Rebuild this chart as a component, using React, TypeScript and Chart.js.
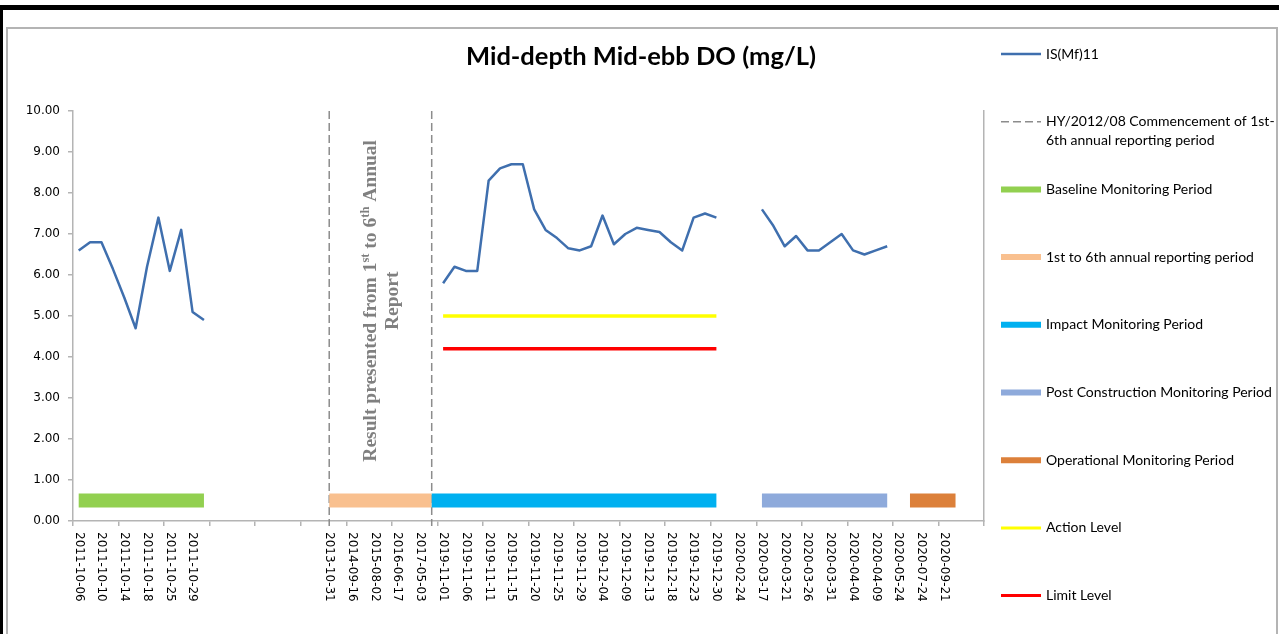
import React, { useEffect, useRef } from 'react';
import { Chart, registerables } from 'chart.js';

Chart.register(...registerables);

const W = 1279;
const H = 634;

// Category axis (Excel shows every 2nd label; unlabeled categories are '')
const categories: string[] = [
  '2011-10-06', '', '2011-10-10', '', '2011-10-14', '', '2011-10-18', '', '2011-10-25', '', '2011-10-29', '',
  '', '', '', '', '', '', '', '', '', '',
  '2013-10-31', '', '2014-09-16', '', '2015-08-02', '', '2016-06-17', '', '2017-05-03', '',
  '2019-11-01', '', '2019-11-06', '', '2019-11-11', '', '2019-11-15', '', '2019-11-20', '',
  '2019-11-25', '', '2019-11-29', '', '2019-12-04', '', '2019-12-09', '', '2019-12-13', '',
  '2019-12-18', '', '2019-12-23', '', '2019-12-30', '', '2020-02-24', '', '2020-03-17', '',
  '2020-03-21', '', '2020-03-26', '', '2020-03-31', '', '2020-04-04', '', '2020-04-09', '',
  '2020-05-24', '', '2020-07-24', '', '2020-09-21', '', '', '',
];

// IS(Mf)11 DO values (mg/L), null = no data
const isMf11: (number | null)[] = [
  6.6, 6.8, 6.8, 6.15, 5.45, 4.7, 6.2, 7.4, 6.1, 7.1, 5.1, 4.9,
  null, null, null, null, null, null, null, null, null, null,
  null, null, null, null, null, null, null, null, null, null,
  5.8, 6.2, 6.1, 6.1, 8.3, 8.6, 8.7, 8.7, 7.6, 7.1,
  6.9, 6.65, 6.6, 6.7, 7.45, 6.75, 7.0, 7.15, 7.1, 7.05,
  6.8, 6.6, 7.4, 7.5, 7.4, null, null, null, 7.6, 7.2,
  6.7, 6.95, 6.6, 6.6, 6.8, 7.0, 6.6, 6.5, 6.6, 6.7,
  null, null, null, null, null, null, null, null,
];

const actionLevel = 5.0;
const limitLevel = 4.2;
const levelRange = [32, 56];

const periodLevel = 0.5;
const baselineRange = [0, 11];
const reportingRange = [22, 31];
const impactRange = [31, 56];
const postConstructionRange = [60, 71];
const operationalRange = [73, 77];

const commencementIdx = [22, 31];

const yTicks = [0, 1, 2, 3, 4, 5, 6, 7, 8, 9, 10];

const title = 'Mid-depth Mid-ebb DO (mg/L)';

const C_IS = '#3f6fae';
const C_DASH = '#8c8c8c';
const C_BASE = '#92d050';
const C_REP = '#f9c08f';
const C_IMP = '#00b0f0';
const C_POST = '#8eaadb';
const C_OPER = '#dc803a';
const C_ACT = '#ffff00';
const C_LIM = '#ff0000';
const AXIS = '#b4b4b4';

const rangeSeries = (r: number[], v: number) =>
  categories.map((_, i) => (i >= r[0] && i <= r[1] ? v : null));

const legendItems = [
  { text: ['IS(Mf)11'], color: C_IS, width: 2.5, dash: [] as number[] },
  { text: ['HY/2012/08 Commencement of 1st-', '6th annual reporting period'], color: C_DASH, width: 1.5, dash: [8, 4] },
  { text: ['Baseline Monitoring Period'], color: C_BASE, width: 6, dash: [] },
  { text: ['1st to 6th annual reporting period'], color: C_REP, width: 6, dash: [] },
  { text: ['Impact Monitoring Period'], color: C_IMP, width: 6, dash: [] },
  { text: ['Post Construction Monitoring Period'], color: C_POST, width: 6, dash: [] },
  { text: ['Operational Monitoring Period'], color: C_OPER, width: 6, dash: [] },
  { text: ['Action Level'], color: C_ACT, width: 3, dash: [] },
  { text: ['Limit Level'], color: C_LIM, width: 3, dash: [] },
];

const customDraw = {
  id: 'customDraw',
  beforeDatasetsDraw(chart: any) {
    const { ctx, chartArea, scales } = chart;
    ctx.save();
    ctx.strokeStyle = C_DASH;
    ctx.lineWidth = 1.5;
    ctx.setLineDash([8, 4]);
    commencementIdx.forEach((i) => {
      const x = scales.x.getPixelForValue(i);
      ctx.beginPath();
      ctx.moveTo(x, scales.y.getPixelForValue(10));
      ctx.lineTo(x, chartArea.bottom + 5);
      ctx.stroke();
    });
    ctx.restore();

    // vertical annotation text
    const x1 = scales.x.getPixelForValue(commencementIdx[0]);
    const x2 = scales.x.getPixelForValue(commencementIdx[1]);
    const cx = (x1 + x2) / 2 + 1.5;
    const cy = scales.y.getPixelForValue(5.37);
    ctx.save();
    ctx.translate(cx, cy);
    ctx.rotate(-Math.PI / 2);
    ctx.fillStyle = '#808080';
    ctx.textBaseline = 'middle';
    ctx.textAlign = 'left';
    const big = 'bold 19.5px "Liberation Serif"';
    const sup = 'bold 12.5px "Liberation Serif"';
    const parts: [string, boolean][] = [
      ['Result presented from 1', false], ['st', true], [' to 6', false], ['th', true], [' Annual', false],
    ];
    let total = 0;
    parts.forEach(([t, s]) => { ctx.font = s ? sup : big; total += ctx.measureText(t).width; });
    let px = -total / 2;
    const ly1 = -11;
    parts.forEach(([t, s]) => {
      ctx.font = s ? sup : big;
      ctx.fillText(t, px, s ? ly1 - 5.5 : ly1);
      px += ctx.measureText(t).width;
    });
    ctx.font = big;
    ctx.textAlign = 'center';
    ctx.fillText('Report', 0, 11);
    ctx.restore();
  },
  afterDraw(chart: any) {
    const { ctx, scales, chartArea } = chart;
    // x labels rotated +90deg (reading downward)
    ctx.save();
    ctx.font = '12px "DejaVu Sans"';
    ctx.fillStyle = '#000';
    ctx.textAlign = 'left';
    ctx.textBaseline = 'middle';
    categories.forEach((lab, i) => {
      if (!lab) return;
      const x = scales.x.getPixelForValue(i);
      ctx.save();
      ctx.translate(x, chartArea.bottom + 11);
      ctx.rotate(Math.PI / 2);
      ctx.fillText(lab, 0, 0);
      ctx.restore();
    });
    ctx.restore();

    // title
    ctx.save();
    ctx.font = 'bold 25.5px Lato';
    ctx.fillStyle = '#000';
    ctx.textAlign = 'center';
    ctx.textBaseline = 'middle';
    ctx.fillText(title, 641, 57);
    ctx.restore();

    // legend
    ctx.save();
    ctx.font = '14px Lato';
    ctx.textBaseline = 'middle';
    ctx.textAlign = 'left';
    legendItems.forEach((it, k) => {
      const y = 54 + k * 67.7;
      ctx.strokeStyle = it.color;
      ctx.lineWidth = it.width;
      ctx.setLineDash(it.dash);
      ctx.beginPath();
      ctx.moveTo(1001, y);
      ctx.lineTo(1041, y);
      ctx.stroke();
      ctx.fillStyle = '#000';
      it.text.forEach((t, j) => ctx.fillText(t, 1046, y + j * 19));
    });
    ctx.restore();
  },
};

export default function App() {
  const ref = useRef<HTMLCanvasElement | null>(null);
  useEffect(() => {
    if (!ref.current) return;
    const lineDs = (label: string, data: (number | null)[], color: string, width: number) => ({
      label, data, borderColor: color, backgroundColor: color, borderWidth: width,
      pointRadius: 0, pointHoverRadius: 0, tension: 0, spanGaps: false, fill: false,
      borderCapStyle: 'butt', borderJoinStyle: 'round',
    });
    const chart = new Chart(ref.current, {
      type: 'line',
      data: {
        labels: categories,
        datasets: [
          lineDs('IS(Mf)11', isMf11, C_IS, 2.5),
          lineDs('Limit Level', rangeSeries(levelRange, limitLevel), C_LIM, 3.5),
          lineDs('Action Level', rangeSeries(levelRange, actionLevel), C_ACT, 3.5),
          lineDs('Operational Monitoring Period', rangeSeries(operationalRange, periodLevel), C_OPER, 14),
          lineDs('Post Construction Monitoring Period', rangeSeries(postConstructionRange, periodLevel), C_POST, 14),
          lineDs('Impact Monitoring Period', rangeSeries(impactRange, periodLevel), C_IMP, 14),
          lineDs('1st to 6th annual reporting period', rangeSeries(reportingRange, periodLevel), C_REP, 14),
          lineDs('Baseline Monitoring Period', rangeSeries(baselineRange, periodLevel), C_BASE, 14),
        ] as any,
      },
      options: {
        responsive: false,
        animation: false,
        devicePixelRatio: 1,
        layout: { padding: { left: 0, right: 295, top: 111, bottom: 0 } },
        plugins: { legend: { display: false }, title: { display: false }, tooltip: { enabled: false } },
        scales: {
          x: {
            type: 'category',
            offset: true,
            ticks: { display: false, autoSkip: false },
            grid: {
              offset: true,
              drawOnChartArea: false,
              drawTicks: true,
              tickLength: 5,
              lineWidth: 1.5,
              color: (c: any) => (c.index === undefined || c.index % 4 === 0 ? AXIS : 'rgba(0,0,0,0)'),
            },
            border: { display: true, color: AXIS, width: 1.5 },
            afterFit: (s: any) => { s.height = 113; },
          },
          y: {
            min: 0,
            max: 10,
            afterBuildTicks: (s: any) => { s.ticks = yTicks.map((v) => ({ value: v })); },
            ticks: {
              callback: (v: any) => Number(v).toFixed(2),
              font: { family: 'DejaVu Sans', size: 12 },
              color: '#000',
              padding: 8,
            },
            grid: { drawOnChartArea: false, drawTicks: true, tickLength: 5, color: AXIS, lineWidth: 1.5 },
            border: { display: true, color: AXIS, width: 1.5 },
            afterFit: (s: any) => { s.width = 73; },
          },
          y2: {
            position: 'right',
            min: 0,
            max: 10,
            ticks: { display: false },
            grid: { drawOnChartArea: false, drawTicks: false, color: AXIS },
            border: { display: true, color: AXIS, width: 1.5 },
            afterFit: (s: any) => { s.width = 0; },
          },
        },
      } as any,
      plugins: [customDraw],
    });
    return () => chart.destroy();
  }, []);

  return (
    <div style={{ position: 'absolute', left: 0, top: 0, width: W, height: H, background: '#fff', overflow: 'hidden' }}>
      <div style={{ position: 'absolute', left: 0, top: 5, width: W, height: 5, background: '#000' }} />
      <div style={{ position: 'absolute', left: 0, top: 5, width: 3, height: H, background: '#000' }} />
      <div style={{ position: 'absolute', left: 6, top: 27, width: 1268, height: 700, border: '2px solid #b4b4b4' }} />
      <canvas ref={ref} width={W} height={H} style={{ position: 'absolute', left: 0, top: 0, width: W, height: H }} />
    </div>
  );
}
